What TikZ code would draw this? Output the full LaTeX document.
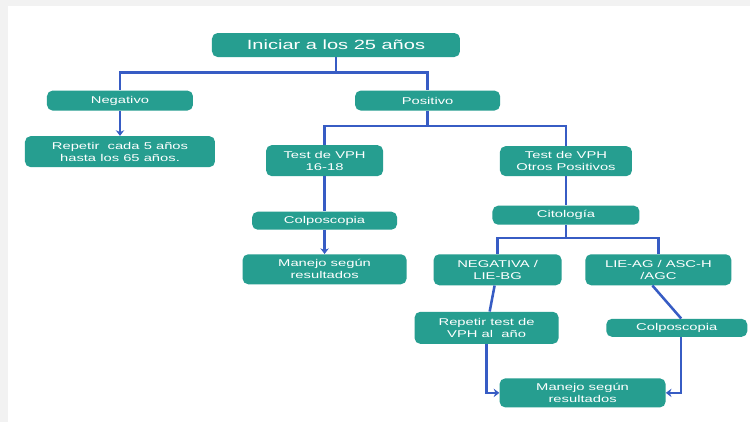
\documentclass[tikz,border=0pt]{standalone}
\usepackage{fontspec}
\setmainfont{Liberation Sans}[FakeStretch=1.5]
\usetikzlibrary{arrows.meta, positioning}
\definecolor{boxteal}{RGB}{38,158,144}
\definecolor{linkblue}{RGB}{55,92,196}
\definecolor{framegray}{RGB}{242,242,242}

\begin{document}
\begin{tikzpicture}[
        box/.style={rectangle, rounded corners=4pt, fill=boxteal, text=white, align=center, inner sep=1pt, font=\fontsize{7pt}{8.5pt}\selectfont},
        headbox/.style={box, font=\fontsize{9.5pt}{11pt}\selectfont},
        link/.style={draw=linkblue, line width=1.8pt},
        arrow/.style={link, -{Stealth[length=4pt, width=6pt]}}
    ]
        % frame
        \useasboundingbox (-8.4,1.125) rectangle (10.35,-9.425);
        \fill[framegray] (-8.4,1.125) rectangle (10.35,-9.425);
        \fill[white] (-8.2,0.975) rectangle (10.35,-9.425);

        \node[headbox, minimum width=6.2cm, minimum height=0.6cm] (start) {Iniciar a los 25 años};
        \node[box, minimum width=3.65cm, minimum height=0.5cm, below=0.825cm of start, xshift=-5.4cm] (neg) {Negativo};
        \node[box, minimum width=3.625cm, minimum height=0.5cm, below=0.825cm of start, xshift=2.29cm] (pos) {Positivo};
        \node[box, minimum width=4.75cm, minimum height=0.775cm, below=0.625cm of neg] (every5) {Repetir\ \ cada 5 años\\hasta los 65 años.};

        % positive branch
        \node[box, minimum width=2.925cm, minimum height=0.775cm, below=0.85cm of pos, xshift=-2.575cm] (vph16) {Test de VPH\\16-18};
        \node[box, minimum width=3.3cm, minimum height=0.75cm, below=0.875cm of pos, xshift=3.46cm] (vphother) {Test de VPH\\Otros Positivos};
        \node[box, minimum width=3.625cm, minimum height=0.45cm, below=0.875cm of vph16] (colpo1) {Colposcopia};
        \node[box, minimum width=4.1cm, minimum height=0.75cm, below=0.6cm of colpo1] (result1) {Manejo según\\resultados};
        \node[box, minimum width=3.675cm, minimum height=0.475cm, below=0.725cm of vphother] (cyto) {Citología};
        \node[box, minimum width=3.2cm, minimum height=0.775cm, below=0.725cm of cyto, xshift=-1.71cm] (lowgrade) {NEGATIVA /\\LIE-BG};
        \node[box, minimum width=3.65cm, minimum height=0.775cm, below=0.725cm of cyto, xshift=2.31cm] (highgrade) {LIE-AG / ASC-H\\/AGC};
        \node[box, minimum width=3.6cm, minimum height=0.8cm, below=0.65cm of lowgrade, xshift=-0.275cm] (retest) {Repetir test de\\VPH al\ \ año};
        \node[box, minimum width=3.525cm, minimum height=0.45cm, below=0.825cm of highgrade, xshift=0.46cm] (colpo2) {Colposcopia};
        \node[box, minimum width=4.15cm, minimum height=0.725cm, below=0.85cm of retest, xshift=2.4cm] (result2) {Manejo según\\resultados};

        \coordinate[below=0.375cm of start] (split0);
        \draw[link] (start) -- (split0) -| (neg);
        \draw[link] (split0) -| (pos);
        \draw[arrow] (neg) -- (every5);

        \coordinate[below=0.375cm of pos] (split1);
        \draw[link] (pos) -- (split1) -| (vph16);
        \draw[link] (split1) -| (vphother);
        \draw[link] (vph16) -- (colpo1);
        \draw[arrow] (colpo1) -- (result1);
        \draw[link] (vphother) -- (cyto);

        \coordinate[below=0.325cm of cyto] (split2);
        \draw[link] (cyto) -- (split2) -| (lowgrade);
        \draw[link] (split2) -| (highgrade);
        \draw[link] (lowgrade) -- (retest);
        \draw[link] ([xshift=-0.15cm]highgrade.south) -- ([xshift=0.11cm]colpo2.north);
        \draw[arrow] (retest) |- (result2);
        \draw[arrow] ([xshift=0.11cm]colpo2.south) |- (result2);
    \end{tikzpicture}
\end{document}
